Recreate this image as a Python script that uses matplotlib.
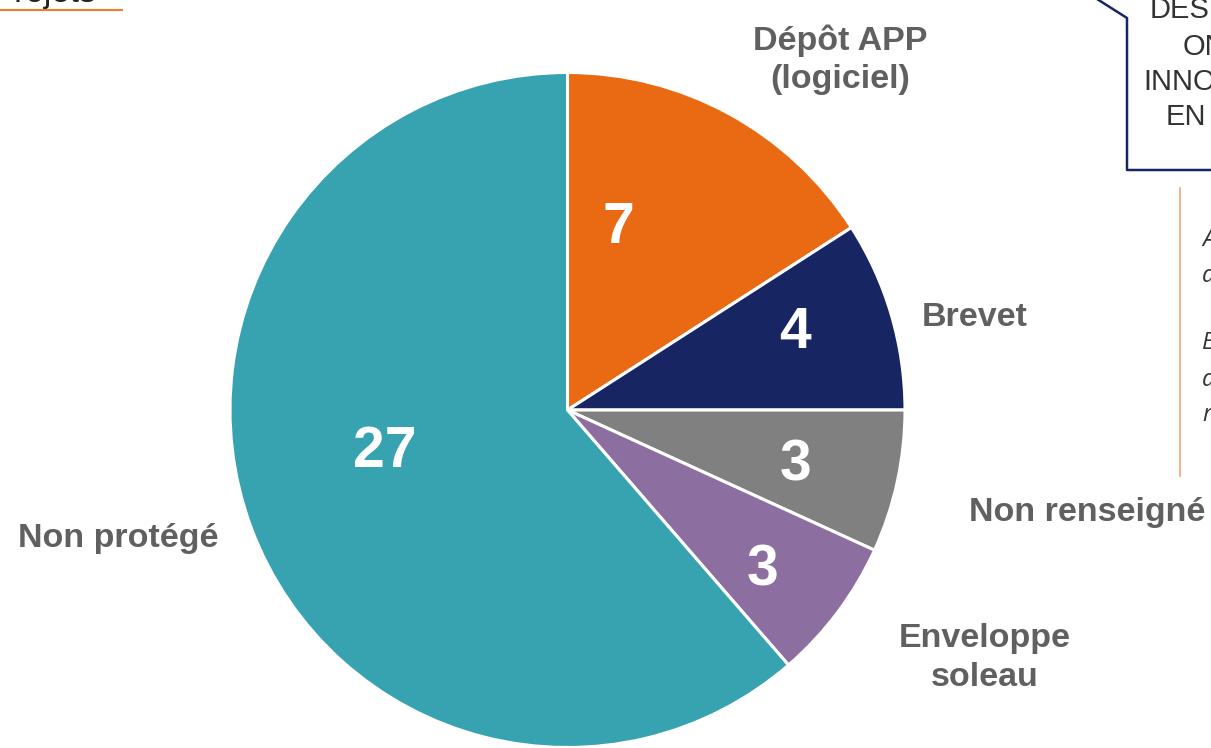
import matplotlib.pyplot as plt

categories = ["Dépôt APP\n(logiciel)", "Brevet", "Non renseigné", "Enveloppe\nsoleau", "Non protégé"]
counts = [7, 4, 3, 3, 27]
colors = ["#EA6A13", "#172663", "#808080", "#8C6FA0", "#38A3B0"]

W, H = 1211, 748
fig = plt.figure(figsize=(W / 100, H / 100), dpi=100)
fam = ["Liberation Sans Narrow", "Liberation Sans", "DejaVu Sans"]


def fx(px):
    return px / W


def fy(py):
    return 1 - py / H


# pie axes: centre (567.5, 410) px, radius 337.5 px
cx, cy, r = 567.5, 410, 337.5
ax = fig.add_axes([fx(cx - r), fy(cy + r), 2 * r / W, 2 * r / H])
wedges, _ = ax.pie(counts, colors=colors, startangle=90, counterclock=False,
                   wedgeprops=dict(edgecolor="white", linewidth=2.2))
ax.set_xlim(-1, 1)
ax.set_ylim(-1, 1)
ax.axis("off")

# values inside slices
num_pos = [(618, 228), (795, 333), (795, 465), (762, 570), (385, 452)]
for (px, py), v in zip(num_pos, counts):
    fig.text(fx(px), fy(py), str(v), color="white", fontsize=41, fontweight="bold",
             family=fam, ha="center", va="center")

# category labels outside
lab_pos = [(840, 60), (975, 318), (1087, 513), (985, 658), (118, 538)]
for (px, py), lab in zip(lab_pos, categories):
    fig.text(fx(px), fy(py), lab, color="#606060", fontsize=24.5, fontweight="bold",
             family=fam, ha="center", va="center", linespacing=1.3)

# bits of the slide around the chart
fig.text(fx(96), fy(2), "Projets", fontsize=24, color="#222222", family=fam,
         ha="right", va="baseline")
fig.add_artist(plt.Line2D([fx(0), fx(122)], [fy(10), fy(10)], color="#EE7D31", lw=1.5))

fig.add_artist(plt.Line2D([fx(1097), fx(1127), fx(1127), fx(1215)],
                          [fy(-1), fy(18), fy(170), fy(170)], color="#172663", lw=1.8))
for txt, px, py in [("DES", 1150, 10), ("ON", 1183, 47), ("INNOV", 1143, 82), ("EN", 1166, 117)]:
    fig.text(fx(px), fy(py), txt, fontsize=21, color="#333333", family=fam,
             ha="left", va="center")

fig.add_artist(plt.Line2D([fx(1180), fx(1180)], [fy(188), fy(476)], color="#F4A57A", lw=1.2))
for txt, py in [("A", 240), ("d", 276), ("E", 343), ("d", 380), ("r", 415)]:
    fig.text(fx(1202), fy(py), txt, fontsize=17, color="#333333", style="italic",
             family=["Open Sans", "DejaVu Sans"], ha="left", va="center")

fig.savefig("out.png", dpi=100)
